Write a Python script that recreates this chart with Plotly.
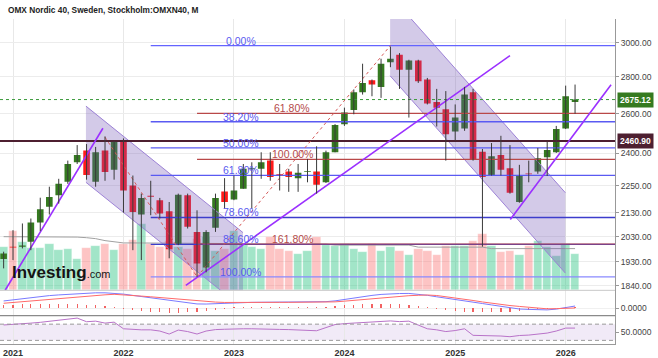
import numpy as np
import pandas as pd
import plotly.graph_objects as go

# ---------------- data (monthly, Dec 2020 .. Feb 2026) ----------------
MONTHS = pd.date_range("2020-12-01", periods=63, freq="MS")

OPEN = [1941, 1990, 1990, 2010, 2089, 2156, 2207, 2268, 2358, 2414, 2268, 2414, 2323,
        2466, 2250, 2123, 2205, 2185, 2137, 1999, 2207, 2050, 1908, 2067, 2224,
        2188, 2236, 2325, 2327, 2366, 2303, 2315, 2283, 2313, 2315, 2265, 2406,
        2546, 2619, 2714, 2781, 2743, 2883, 2927, 2841, 2893, 2785, 2662, 2623,
        2509, 2524, 2714, 2409, 2299, 2393, 2330, 2177, 2305, 2315, 2382, 2406,
        2524, 2662]
HIGH = [1970, 2057, 2085, 2106, 2196, 2245, 2281, 2366, 2441, 2446, 2432, 2484, 2463,
        2474, 2296, 2214, 2272, 2195, 2177, 2214, 2214, 2141, 2057, 2214, 2284,
        2296, 2350, 2358, 2406, 2406, 2350, 2327, 2350, 2374, 2435, 2414, 2546,
        2632, 2730, 2875, 2785, 2904, 2976, 2937, 2898, 2898, 2794, 2733, 2721,
        2649, 2744, 2733, 2422, 2451, 2487, 2441, 2346, 2366, 2427, 2458, 2537,
        2751, 2757]
LOW = [1905, 1937, 1983, 1976, 2053, 2123, 2170, 2258, 2350, 2277, 2245, 2272, 2277,
       2131, 1976, 1937, 2120, 2106, 1944, 1996, 2064, 1873, 1890, 2050, 2148,
       2185, 2236, 2148, 2281, 2272, 2228, 2222, 2222, 2265, 2214, 2262, 2406,
       2537, 2597, 2702, 2693, 2684, 2855, 2733, 2580, 2766, 2649, 2534, 2366,
       2463, 2512, 2366, 1990, 2296, 2296, 2214, 2174, 2265, 2304, 2294, 2403,
       2521, 2600]
CLOSE = [1963, 1987, 1995, 2089, 2145, 2199, 2258, 2350, 2393, 2299, 2406, 2312, 2460,
         2228, 2134, 2195, 2200, 2127, 1980, 2209, 2071, 1924, 2050, 2195, 2177,
         2228, 2327, 2330, 2358, 2289, 2300, 2289, 2309, 2317, 2254, 2406, 2541,
         2606, 2714, 2766, 2757, 2875, 2904, 2841, 2893, 2775, 2654, 2632, 2495,
         2580, 2702, 2371, 2289, 2387, 2323, 2218, 2294, 2302, 2377, 2417, 2521,
         2693, 2675.12]
VOLUME = [645, 879, 718, 630, 630, 689, 601, 615, 469, 630, 659, 689, 601,
          689, 747, 982, 689, 645, 733, 645, 615, 762, 791, 586, 615,
          879, 674, 645, 615, 791, 615, 586, 542, 586, 791, 674, 659,
          689, 615, 571, 689, 586, 645, 586, 527, 615, 586, 527, 659,
          659, 659, 733, 835, 659, 571, 586, 527, 659, 733, 645, 513,
          689, 542]
VOLUME_MA = [791, 791, 791, 791, 791, 791, 791, 791, 785, 776, 762, 733, 711,
             699, 699, 699, 699, 689, 689, 689, 689, 689, 689, 689, 689,
             689, 681, 681, 681, 681, 681, 681, 681, 681, 681, 681, 667,
             667, 667, 667, 667, 667, 667, 667, 667, 637, 637, 637, 637,
             637, 637, 637, 637, 615, 615, 615, 615, 615, 615, 615, 615,
             615, 615]
MACD = [73, 85, 96, 109, 118, 127, 134, 140, 146, 151, 155, 155, 151,
        142, 129, 117, 106, 93, 80, 68, 54, 43, 42, 46, 51,
        57, 58, 59, 60, 60, 61, 62, 63, 64, 65, 66, 74,
        89, 103, 117, 129, 139, 145, 148, 149, 142, 130, 115, 100,
        87, 74, 61, 47, 33, 20, 5, -8, -12, -15, -17, -9,
        7, 22]
SIGNAL = [50, 58, 66, 76, 84, 92, 99, 107, 114, 121, 128, 135, 140,
          136, 130, 122, 115, 107, 98, 90, 81, 74, 67, 62, 58,
          57, 57, 58, 58, 59, 59, 59, 59, 60, 60, 60, 64,
          71, 79, 88, 97, 108, 114, 120, 126, 130, 133, 128, 117,
          105, 93, 78, 63, 49, 36, 27, 18, 9, 0, -6, -4,
          0, 2]
HIST = [30, 32, 35, 38, 40, 40, 40, 38, 35, 33, 30, 22, 12,
        -10, -25, -35, -42, -45, -48, -48, -45, -38, -28, -18, -10,
        5, 6, 7, 8, 8, 8, 7, 7, 6, 5, 8,
        15, 25, 32, 38, 40, 40, 38, 35, 30, 20, 5,
        -15, -25, -32, -38, -42, -45, -45, -42, -38, -30, -22, -15,
        -10, -5, 5, 10]
RSI = [68, 69, 70, 72.6, 74.5, 77.5, 80, 82, 85, 76, 77.5, 72.6, 75,
       58.6, 56.6, 56, 56, 53, 45.6, 55.4, 51.7, 45.6, 53, 56.6, 57.4,
       58.6, 58.6, 58.6, 58.6, 57.9, 57, 56.6, 56, 54.7, 53.7, 61.5, 69,
       71.3, 73, 74.3, 75.5, 77, 78, 76.3, 77.5, 67.7, 58.6, 56, 51.7,
       54.2, 58.6, 42.4, 42, 42.4, 40.7, 39, 42, 43, 45.6, 48, 53,
       60.3, 60.3]

PRICE_TICKS = [3000, 2800, 2600, 2400, 2250, 2130, 2030, 1930, 1840]
YEAR_TICKS = ["2021-01-01", "2022-01-01", "2023-01-01", "2024-01-01", "2025-01-01", "2026-01-01"]
YEAR_LABELS = ["2021", "2022", "2023", "2024", "2025", "2026"]
X_RANGE = ["2020-11-19", "2026-06-13"]

# Fibonacci retracement (Sep 2022 low -> Jun 2024 high)
FIB_HIGH, FIB_LOW, FIB_START = 2982, 1873, "2022-04-01"
FIB_RATIOS = [0.0, 0.382, 0.5, 0.618, 0.786, 0.886, 1.0]
FIB_LABELS = ["0.00%", "38.20%", "50.00%", "61.80%", "78.60%", "88.60%", "100.00%"]
FIB_COLORS = ["#6464ff", "#5a5af2", "#5a5af2", "#5a5af2", "#3d3dcc", "#3d3dcc", "#8a8aff"]
FIB_LABEL_X = "2023-01-23"
# Fibonacci extension
EXT_BASE, EXT_MOVE, EXT_START = 2973, 601, "2022-09-01"
EXT_RATIOS = [0.618, 1.0, 1.618]
EXT_LABELS = ["61.80%", "100.00%", "161.80%"]
EXT_LABEL_X = "2023-07-12"

MAROON_LEVEL = 2460.90
LAST_PRICE = 2675.12

CHANNEL1_X = ["2021-08-30", "2023-01-31", "2023-01-31", "2021-08-30"]
CHANNEL1_Y = [2640, 2047, 1758, 2265]
CHANNEL2_X = ["2024-05-31", "2025-12-31", "2025-12-31", "2024-05-31"]
CHANNEL2_Y = [3300, 2218, 1887, 2806]

TREND_LINES = [
    (["2020-12-06", "2021-10-25"], [1823, 2525]),
    (["2022-07-26", "2025-07-01"], [1841, 2922]),
    (["2025-07-02", "2026-05-31"], [2102, 2756]),
]
DASHED_LINES = [
    (["2021-11-01", "2022-09-01"], [2480, 1873]),
    (["2022-09-01", "2024-06-01"], [1873, 2982]),
]

FONT = "Liberation Sans, Arial, sans-serif"
GREEN = "#357a20"
RED = "#ff1a1a"

fig = go.Figure()

# ---------------- volume (base axis, behind) ----------------
vol_colors = ["rgba(60,200,140,0.48)" if c >= o else "rgba(250,125,125,0.45)"
              for o, c in zip(OPEN, CLOSE)]
fig.add_trace(go.Bar(x=MONTHS, y=VOLUME, marker=dict(color=vol_colors,
                     line=dict(color="rgba(255,255,255,0.5)", width=0.5)),
                     xaxis="x", yaxis="y", hoverinfo="skip"))
fig.add_trace(go.Scatter(x=MONTHS, y=VOLUME_MA, mode="lines",
                         line=dict(color="#a0a0a0", width=1), xaxis="x", yaxis="y"))

# ---------------- price overlay ----------------
def chan(xs, ys):
    fig.add_trace(go.Scatter(x=xs + [xs[0]], y=ys + [ys[0]], mode="lines", fill="toself",
                             fillcolor="rgba(110,80,180,0.30)", line=dict(width=0),
                             xaxis="x", yaxis="y2", hoverinfo="skip"))
    for a, b in ((0, 1), (3, 2)):
        fig.add_trace(go.Scatter(x=[xs[a], xs[b]], y=[ys[a], ys[b]], mode="lines",
                                 line=dict(color="#9d82d6", width=1), xaxis="x", yaxis="y2"))

chan(CHANNEL1_X, CHANNEL1_Y)
chan(CHANNEL2_X, CHANNEL2_Y)

for r, col in zip(FIB_RATIOS, FIB_COLORS):
    lvl = FIB_HIGH - r * (FIB_HIGH - FIB_LOW)
    fig.add_trace(go.Scatter(x=[FIB_START, X_RANGE[1]], y=[lvl, lvl], mode="lines",
                             line=dict(color=col, width=1.3), xaxis="x", yaxis="y2"))
for r in EXT_RATIOS:
    lvl = EXT_BASE - r * EXT_MOVE
    fig.add_trace(go.Scatter(x=[EXT_START, X_RANGE[1]], y=[lvl, lvl], mode="lines",
                             line=dict(color="#b94848", width=1.1), xaxis="x", yaxis="y2"))

fig.add_trace(go.Scatter(x=X_RANGE, y=[MAROON_LEVEL, MAROON_LEVEL], mode="lines",
                         line=dict(color="#4d1f30", width=2), xaxis="x", yaxis="y2"))
fig.add_trace(go.Scatter(x=X_RANGE, y=[LAST_PRICE, LAST_PRICE], mode="lines",
                         line=dict(color="#3a9a3a", width=1, dash="dot"), xaxis="x", yaxis="y2"))

for xs, ys in DASHED_LINES:
    fig.add_trace(go.Scatter(x=xs, y=ys, mode="lines",
                             line=dict(color="#d55a5a", width=1, dash="3px,3px"),
                             xaxis="x", yaxis="y2"))
for xs, ys in TREND_LINES:
    fig.add_trace(go.Scatter(x=xs, y=ys, mode="lines",
                             line=dict(color="#9b30ff", width=1.6), xaxis="x", yaxis="y2"))

wx, wy = [], []
for d, lo, hi in zip(MONTHS, LOW, HIGH):
    wx += [d, d, None]
    wy += [lo, hi, None]
fig.add_trace(go.Scatter(x=wx, y=wy, mode="lines", line=dict(color="#3a3a3a", width=1),
                         xaxis="x", yaxis="y2", hoverinfo="skip"))
fig.add_trace(go.Candlestick(x=MONTHS, open=OPEN, high=HIGH, low=LOW, close=CLOSE,
                             increasing=dict(line=dict(color=GREEN, width=0), fillcolor=GREEN),
                             decreasing=dict(line=dict(color=RED, width=0), fillcolor=RED),
                             xaxis="x", yaxis="y2"))

# ---------------- MACD ----------------
fig.add_trace(go.Bar(x=MONTHS, y=HIST, width=4 * 86400000,
                     marker=dict(color="rgba(240,70,70,0.85)", line=dict(width=0)),
                     xaxis="x", yaxis="y3"))
fig.add_trace(go.Scatter(x=MONTHS, y=MACD, mode="lines", line=dict(color="#7a7aff", width=1),
                         xaxis="x", yaxis="y3"))
fig.add_trace(go.Scatter(x=MONTHS, y=SIGNAL, mode="lines", line=dict(color="#ff6a6a", width=1),
                         xaxis="x", yaxis="y3"))

# ---------------- RSI ----------------
fig.add_trace(go.Scatter(x=MONTHS, y=RSI, mode="lines", line=dict(color="#b872c8", width=1),
                         xaxis="x", yaxis="y4"))

MAIN_DOM = [0.1651, 1.0]
MACD_DOM = [0.0872, 0.1651]
RSI_DOM = [0.0, 0.0872]

fig.update_layout(
    width=658, height=358, margin=dict(l=0, r=43, t=19, b=12),
    paper_bgcolor="white", plot_bgcolor="white", showlegend=False, bargap=0,
    boxgap=0.22, boxgroupgap=0, boxmode="overlay",
    font=dict(family=FONT, size=9, color="#333"),
    xaxis=dict(type="date", range=X_RANGE, anchor="y4", domain=[0, 1],
               tickvals=YEAR_TICKS, ticktext=YEAR_LABELS,
               tickfont=dict(family=FONT, size=9, color="#333", weight="bold"),
               showgrid=True, gridcolor="#e8e8e8", gridwidth=1,
               showline=True, linecolor="#999", linewidth=1, ticks="",
               rangeslider=dict(visible=False), zeroline=False),
    yaxis=dict(domain=MAIN_DOM, range=[0, 4000], visible=False, showgrid=False, anchor="x"),
    yaxis2=dict(overlaying="y", side="right", anchor="x", type="log",
                range=[3.26071, 3.49769], tickvals=PRICE_TICKS,
                ticktext=[f"{v:.2f}" for v in PRICE_TICKS],
                tickfont=dict(family=FONT, size=8.5, color="#444"),
                showgrid=True, gridcolor="#ececec", showline=True, linecolor="#999",
                ticks="outside", ticklen=3, tickcolor="#999", zeroline=False),
    yaxis3=dict(domain=MACD_DOM, range=[-75, 180], side="right", anchor="x",
                tickvals=[0], ticktext=["0.0000"], showgrid=True, gridcolor="#f0f0f0",
                tickfont=dict(family=FONT, size=8.5, color="#444"),
                showline=True, linecolor="#999", ticks="outside", ticklen=3,
                tickcolor="#999", zeroline=False),
    yaxis4=dict(domain=RSI_DOM, range=[21, 91], side="right", anchor="x",
                tickvals=[50], ticktext=["50.0000"], showgrid=False,
                tickfont=dict(family=FONT, size=8.5, color="#444"),
                showline=True, linecolor="#999", ticks="outside", ticklen=3,
                tickcolor="#999", zeroline=False),
)

shapes = [
    dict(type="rect", xref="x domain", yref="y4", x0=0, x1=1, y0=30, y1=70,
         fillcolor="rgba(180,140,210,0.18)", line=dict(width=0), layer="below"),
    dict(type="line", xref="x domain", yref="y4", x0=0, x1=1, y0=70, y1=70,
         line=dict(color="#999", width=1, dash="4px,3px")),
    dict(type="line", xref="x domain", yref="y4", x0=0, x1=1, y0=30, y1=30,
         line=dict(color="#999", width=1, dash="4px,3px")),
    dict(type="line", xref="paper", yref="paper", x0=0, x1=1, y0=MAIN_DOM[0], y1=MAIN_DOM[0],
         line=dict(color="#c8c8c8", width=1)),
    dict(type="line", xref="paper", yref="paper", x0=0, x1=1, y0=MACD_DOM[0], y1=MACD_DOM[0],
         line=dict(color="#8a8a8a", width=1.2)),
]
fig.update_layout(shapes=shapes)

ann = []
for r, lab in zip(FIB_RATIOS, FIB_LABELS):
    lvl = FIB_HIGH - r * (FIB_HIGH - FIB_LOW)
    ann.append(dict(x=FIB_LABEL_X, y=np.log10(lvl), xref="x", yref="y2", text=lab,
                    showarrow=False, xanchor="center", yanchor="middle", yshift=5,
                    font=dict(family=FONT, size=10.5, color="#5a5af0")))
for r, lab in zip(EXT_RATIOS, EXT_LABELS):
    lvl = EXT_BASE - r * EXT_MOVE
    ann.append(dict(x=EXT_LABEL_X, y=np.log10(lvl), xref="x", yref="y2", text=lab,
                    showarrow=False, xanchor="center", yanchor="middle", yshift=5,
                    font=dict(family=FONT, size=10.5, color="#b54a4a")))
ann.append(dict(x=1, y=np.log10(LAST_PRICE), xref="paper", yref="y2", text=f"{LAST_PRICE:.2f}",
                showarrow=False, xanchor="left", yanchor="middle", xshift=2,
                bgcolor=GREEN, borderpad=2,
                font=dict(family=FONT, size=8.5, color="white", weight="bold")))
ann.append(dict(x=1, y=np.log10(MAROON_LEVEL), xref="paper", yref="y2", text=f"{MAROON_LEVEL:.2f}",
                showarrow=False, xanchor="left", yanchor="middle", xshift=2,
                bgcolor="#4d1f30", borderpad=2,
                font=dict(family=FONT, size=8.5, color="white", weight="bold")))
ann.append(dict(x=0.0098, y=1.0275, xref="paper", yref="paper",
                text="OMX Nordic 40, Sweden, Stockholm:OMXN40, M", showarrow=False,
                xanchor="left", yanchor="middle",
                font=dict(family=FONT, size=8.3, color="#222", weight="bold")))
ann.append(dict(x=0.017, y=0.22, xref="paper", yref="paper",
                text="<b>Investing</b><span style='font-size:11px'>.com</span>",
                showarrow=False, xanchor="left", yanchor="middle",
                font=dict(family=FONT, size=17, color="#151515")))
fig.update_layout(annotations=ann)

fig.write_html("out.html")
